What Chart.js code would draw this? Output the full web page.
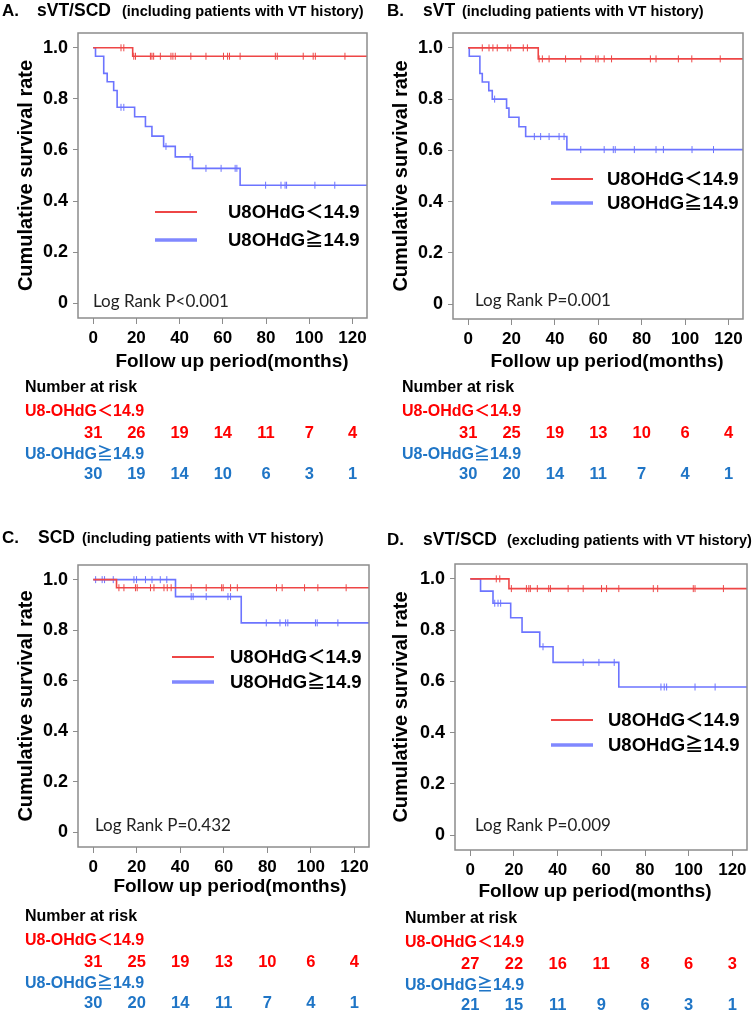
<!DOCTYPE html>
<html>
<head>
<meta charset="utf-8">
<script src="https://cdn.jsdelivr.net/npm/chart.js@4"></script>
<style>
  body { margin: 0; background: #fff; }
  canvas { position: absolute; }
</style>
</head>
<body>
<canvas id="cA" width="375" height="495" style="left:0;top:0"></canvas>
<canvas id="cB" width="380" height="495" style="left:375px;top:0"></canvas>
<canvas id="cC" width="375" height="511" style="left:0;top:500px"></canvas>
<canvas id="cD" width="380" height="511" style="left:375px;top:500px"></canvas>
<script>
'use strict';

const xTicks = [0, 20, 40, 60, 80, 100, 120];
const yTicks = [0, 0.2, 0.4, 0.6, 0.8, 1.0];

// A. sVT/SCD (including VT history)
const aLowTime = [0, 18.3];
const aLowSurv = [1, 0.967];
const aLowCens = [12.9, 14.2, 18.8, 19.6, 26.5, 27.2, 28, 31.1, 36, 36.9, 38, 45.2, 52.2, 60.3, 62.2, 63.1, 68, 84.3, 85.2, 97.2, 101.8, 102.8, 116.5];
const aHighTime = [0, 1.1, 4.9, 6.5, 9.5, 11.1, 19.2, 24.2, 27.2, 32.6, 38, 46, 68];
const aHighSurv = [1, 0.967, 0.9, 0.867, 0.833, 0.767, 0.73, 0.692, 0.654, 0.614, 0.573, 0.528, 0.462];
const aHighCens = [12.9, 14.2, 33.7, 44.9, 52.2, 59.2, 65.7, 66.5, 79.8, 86.9, 88.8, 89.5, 102.6, 111.8];
const aLowRisk = [31, 26, 19, 14, 11, 7, 4];
const aHighRisk = [30, 19, 14, 10, 6, 3, 1];

// B. sVT
const bLowTime = [0, 32.3];
const bLowSurv = [1, 0.957];
const bLowCens = [6.5, 9.6, 11.4, 13.4, 18.3, 19.6, 25.4, 27.3, 32.7, 34.2, 37.3, 44.9, 51.9, 58.8, 59.9, 62.7, 66.1, 84, 86.6, 96.9, 103.1, 116.2];
const bHighTime = [0, 0.5, 5.4, 6.5, 9.5, 11.1, 17.7, 18.8, 23.4, 26.5, 45.5];
const bHighSurv = [1, 0.967, 0.9, 0.867, 0.833, 0.8, 0.765, 0.729, 0.692, 0.654, 0.603];
const bHighCens = [12.2, 30.5, 33.4, 37.3, 41.9, 44.2, 51.9, 62.7, 66.9, 67.8, 76.6, 86.6, 90, 103.2, 113.1];
const bLowRisk = [31, 25, 19, 13, 10, 6, 4];
const bHighRisk = [30, 20, 14, 11, 7, 4, 1];

// C. SCD
const cLowTime = [0, 10.7];
const cLowSurv = [1, 0.968];
const cLowCens = [11.8, 14.1, 19.4, 20.2, 26.3, 27.9, 32.5, 34, 35.8, 45, 51.9, 59, 59.7, 63.1, 66.2, 84.2, 86.8, 97.1, 103.2, 116.2];
const cHighTime = [0, 37.8, 68];
const cHighSurv = [1, 0.933, 0.829];
const cHighCens = [1.1, 4.1, 5.2, 9.2, 18.7, 19.9, 24, 27, 30.8, 33.8, 45, 45.9, 51.9, 61.9, 63.1, 79.5, 85.8, 88.4, 89.4, 102.1, 102.9, 112.4];
const cLowRisk = [31, 25, 19, 13, 10, 6, 4];
const cHighRisk = [30, 20, 14, 11, 7, 4, 1];

// D. sVT/SCD (excluding VT history)
const dLowTime = [0, 17.7];
const dLowSurv = [1, 0.962];
const dLowCens = [11.9, 13.5, 18.8, 25.7, 26.8, 27.5, 30.7, 35.9, 36.7, 44.8, 51.7, 60.1, 62.4, 68, 83.8, 85.8, 102.1, 102.9, 115.9];
const dHighTime = [0, 4.7, 10.4, 18.5, 23.7, 31.8, 37.9, 68];
const dHighSurv = [1, 0.952, 0.905, 0.848, 0.792, 0.735, 0.674, 0.578];
const dHighCens = [11.2, 12.7, 13.9, 33.3, 51.7, 58.9, 65.9, 87.3, 88.8, 89.9, 102.9, 112.1];
const dLowRisk = [27, 22, 16, 11, 8, 6, 3];
const dHighRisk = [21, 15, 11, 9, 6, 3, 1];

const lowName = 'U8OHdG\uFF1C14.9';
const highName = 'U8OHdG\u226714.9';
const lowRiskName = 'U8-OHdG\uFF1C14.9';
const highRiskName = 'U8-OHdG\u226714.9';
const xTitle = 'Follow up period(months)';

const BOLD = "'Liberation Sans', 'Noto Sans CJK JP', sans-serif";
const RED_LINE = '#ee4646';
const BLUE_LINE = '#6c74ff';
const RED_TEXT = '#ff0000';
const BLUE_TEXT = '#1f75c6';

const panels = [
    {
        id: 'cA', letter: 'A.', main: 'sVT/SCD', sub: '(including patients with VT history)', p: 'Log Rank P<0.001',
        low: [aLowTime, aLowSurv, aLowCens, aLowRisk], high: [aHighTime, aHighSurv, aHighCens, aHighRisk],
        area: { l: 78, t: 33, r: 367, b: 318 }, titleY: 16, letterX: 2, mainX: 37, subX: 122,
        legX: 155, legY: 212, legGap: 28, legTextX: 228, pX: 93, pY: 302, riskX: 25, riskY: 388,
        xtX: 232, xtY: 362,
    },
    {
        id: 'cB', letter: 'B.', main: 'sVT', sub: '(including patients with VT history)', p: 'Log Rank P=0.001',
        low: [bLowTime, bLowSurv, bLowCens, bLowRisk], high: [bHighTime, bHighSurv, bHighCens, bHighRisk],
        area: { l: 78, t: 33, r: 368, b: 319 }, titleY: 16, letterX: 12, mainX: 48, subX: 87,
        legX: 176, legY: 179, legGap: 24, legTextX: 232, pX: 100, pY: 301, riskX: 27, riskY: 388,
        xtX: 232, xtY: 362,
    },
    {
        id: 'cC', letter: 'C.', main: 'SCD', sub: '(including patients with VT history)', p: 'Log Rank P=0.432',
        low: [cLowTime, cLowSurv, cLowCens, cLowRisk], high: [cHighTime, cHighSurv, cHighCens, cHighRisk],
        area: { l: 78, t: 65, r: 369, b: 347 }, titleY: 43, letterX: 2, mainX: 38, subX: 82,
        legX: 172, legY: 157, legGap: 25, legTextX: 230, pX: 95, pY: 326, riskX: 25, riskY: 417,
        xtX: 230, xtY: 387,
    },
    {
        id: 'cD', letter: 'D.', main: 'sVT/SCD', sub: '(excluding patients with VT history)', p: 'Log Rank P=0.009',
        low: [dLowTime, dLowSurv, dLowCens, dLowRisk], high: [dHighTime, dHighSurv, dHighCens, dHighRisk],
        area: { l: 80, t: 64, r: 372, b: 350 }, titleY: 45, letterX: 12, mainX: 48, subX: 132,
        legX: 176, legY: 220, legGap: 25, legTextX: 233, pX: 100, pY: 326, riskX: 30, riskY: 419,
        xtX: 220, xtY: 392,
    },
];

const X_MIN = -7;
const X_MAX = 126.7;
const X_END = 135;
const X_AXIS_H = 60;

// step function lookup: survival at time t
const survAt = (times, surv, t) => {
    let s = surv[0];
    for (let i = 0; i < times.length; i++) {
        if (times[i] <= t) s = surv[i];
    }
    return s;
};

const curveData = (times, surv) => {
    const pts = times.map((t, i) => ({ x: t, y: surv[i] }));
    pts.push({ x: X_END, y: surv[surv.length - 1] });
    return pts;
};

const censData = (times, surv, cens) => cens.map(t => ({ x: t, y: survAt(times, surv, t) }));

const kmDecor = {
    id: 'kmDecor',
    afterDraw(chart) {
        const p = chart.config.options.plugins.kmDecor;
        const ctx = chart.ctx;
        const a = chart.chartArea;
        const xs = chart.scales.x;
        ctx.save();

        // box
        ctx.strokeStyle = '#8c8c8c';
        ctx.lineWidth = 1.5;
        ctx.strokeRect(a.left, a.top, a.right - a.left, a.bottom - a.top);

        // panel title
        ctx.fillStyle = '#000';
        ctx.textBaseline = 'alphabetic';
        ctx.textAlign = 'left';
        ctx.font = `bold 17px ${BOLD}`;
        ctx.fillText(p.letter, p.letterX, p.titleY);
        ctx.font = `bold 17.5px ${BOLD}`;
        ctx.fillText(p.main, p.mainX, p.titleY);
        ctx.font = `bold 14.5px ${BOLD}`;
        ctx.fillText(p.sub, p.subX, p.titleY);

        // x axis title
        ctx.textBaseline = 'middle';
        ctx.textAlign = 'center';
        ctx.font = `bold 19px ${BOLD}`;
        ctx.fillText(xTitle, p.xtX, p.xtY);
        ctx.textAlign = 'left';

        // legend
        ctx.lineCap = 'butt';
        ctx.strokeStyle = RED_LINE;
        ctx.lineWidth = 2;
        ctx.beginPath();
        ctx.moveTo(p.legX, p.legY);
        ctx.lineTo(p.legX + 42, p.legY);
        ctx.stroke();
        ctx.strokeStyle = '#8088ff';
        ctx.lineWidth = 3.5;
        ctx.beginPath();
        ctx.moveTo(p.legX, p.legY + p.legGap);
        ctx.lineTo(p.legX + 42, p.legY + p.legGap);
        ctx.stroke();
        ctx.font = `bold 18.5px ${BOLD}`;
        ctx.fillText(lowName, p.legTextX, p.legY + 1);
        ctx.fillText(highName, p.legTextX, p.legY + p.legGap + 1);

        // log rank
        ctx.font = "17px Lato, 'Open Sans', sans-serif";
        ctx.fillStyle = '#222';
        ctx.fillText(p.p, p.pX, p.pY);

        // number at risk
        ctx.fillStyle = '#000';
        ctx.font = `bold 16px ${BOLD}`;
        ctx.fillText('Number at risk', p.riskX, p.riskY);
        ctx.fillStyle = RED_TEXT;
        ctx.fillText(lowRiskName, p.riskX, p.riskY + 23.5);
        ctx.fillStyle = BLUE_TEXT;
        ctx.fillText(highRiskName, p.riskX, p.riskY + 67);
        ctx.font = `bold 16.5px ${BOLD}`;
        ctx.textAlign = 'center';
        xTicks.forEach((t, i) => {
            const px = xs.getPixelForValue(t);
            ctx.fillStyle = RED_TEXT;
            ctx.fillText(String(p.low[3][i]), px, p.riskY + 45);
            ctx.fillStyle = BLUE_TEXT;
            ctx.fillText(String(p.high[3][i]), px, p.riskY + 86);
        });
        ctx.restore();
    },
};

Chart.defaults.color = '#000';

panels.forEach(p => {
    const canvas = document.getElementById(p.id);
    const w = canvas.width;
    const h = canvas.height;
    const [lt, ls, lc] = p.low;
    const [ht, hs, hc] = p.high;

    new Chart(canvas, {
        type: 'line',
        data: {
            datasets: [
                {
                    label: lowName, data: curveData(lt, ls), stepped: 'before',
                    borderColor: RED_LINE, borderWidth: 1.6, pointRadius: 0, fill: false,
                },
                {
                    label: highName, data: curveData(ht, hs), stepped: 'before',
                    borderColor: BLUE_LINE, borderWidth: 1.6, pointRadius: 0, fill: false,
                },
                {
                    label: 'low censored', data: censData(lt, ls, lc), showLine: false,
                    pointStyle: 'line', rotation: 90, pointRadius: 3.5, borderWidth: 1, borderColor: RED_LINE,
                },
                {
                    label: 'high censored', data: censData(ht, hs, hc), showLine: false,
                    pointStyle: 'line', rotation: 90, pointRadius: 3.5, borderWidth: 1, borderColor: BLUE_LINE,
                },
            ],
        },
        options: {
            responsive: false,
            animation: false,
            events: [],
            layout: {
                padding: { left: 0, top: p.area.t, right: w - p.area.r, bottom: h - p.area.b - X_AXIS_H },
            },
            scales: {
                x: {
                    type: 'linear',
                    min: X_MIN,
                    max: X_MAX,
                    afterBuildTicks: s => { s.ticks = xTicks.map(v => ({ value: v })); },
                    afterFit: s => { s.height = X_AXIS_H; },
                    grid: { drawOnChartArea: false, tickLength: 6, color: '#8c8c8c' },
                    border: { display: false },
                    ticks: { padding: 4, maxRotation: 0, font: { family: BOLD, size: 17, weight: 'bold' } },
                },
                y: {
                    min: -0.058,
                    max: 1.058,
                    afterBuildTicks: s => { s.ticks = yTicks.map(v => ({ value: v })); },
                    afterFit: s => { s.width = p.area.l; },
                    grid: { drawOnChartArea: false, tickLength: 5, color: '#8c8c8c' },
                    border: { display: false },
                    ticks: {
                        padding: 5,
                        font: { family: BOLD, size: 18, weight: 'bold' },
                        callback: v => (v === 0 ? '0' : v.toFixed(1)),
                    },
                    title: {
                        display: true, text: 'Cumulative survival rate',
                        font: { family: BOLD, size: 20, weight: 'bold' }, padding: { top: 14, bottom: 0 },
                    },
                },
            },
            plugins: {
                legend: { display: false },
                tooltip: { enabled: false },
                kmDecor: p,
            },
        },
        plugins: [kmDecor],
    });
});
</script>
</body>
</html>
